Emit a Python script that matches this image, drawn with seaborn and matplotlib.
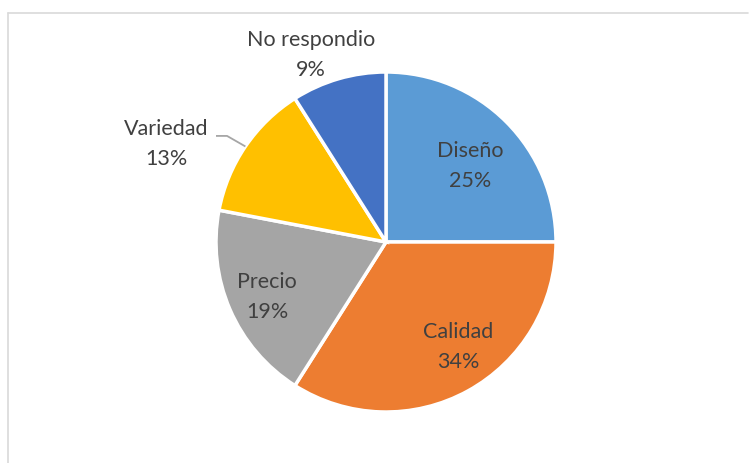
import matplotlib
matplotlib.use("Agg")
import matplotlib.pyplot as plt
from matplotlib.lines import Line2D
import seaborn as sns
import numpy as np

categories = ["Diseño", "Calidad", "Precio", "Variedad", "No respondio"]
percent = [25, 34, 19, 13, 9]
colors = ["#5B9BD5", "#ED7D31", "#A5A5A5", "#FFC000", "#4472C4"]

# label centre positions (data units, pie radius = 1)
label_pos = [(0.494, 0.447), (0.424, -0.618), (-0.70, -0.324), (-1.294, 0.578), (-0.441, 1.10)]

sns.set_theme(style="white")
plt.rcParams["font.family"] = ["Lato", "DejaVu Sans"]

W, H, DPI = 749, 463, 100
fig = plt.figure(figsize=(W / DPI, H / DPI), dpi=DPI)
ax = fig.add_axes([0, 0, 1, 1])

cx, cy, R = 386, 242, 170

wedges, _ = ax.pie(percent, colors=colors, startangle=90, counterclock=False,
                   radius=1.0, center=(0, 0), frame=True,
                   wedgeprops=dict(edgecolor="white", linewidth=2.5))
ax.set_xlim((0 - cx) / R, (W - cx) / R)
ax.set_ylim((cy - H) / R, (cy - 0) / R)
ax.set_aspect("equal")
ax.axis("off")

for name, p, (x, y) in zip(categories, percent, label_pos):
    ax.text(x, y, f"{name}\n{p}%", ha="center", va="center", fontsize=15.5,
            color="#404040", linespacing=1.6)

# leader line for the outside label
w = wedges[3]
mid = np.deg2rad((w.theta1 + w.theta2) / 2)
ex, ey = np.cos(mid), np.sin(mid)
ax.plot([-1.00, -0.935, ex], [0.624, 0.624, ey], color="#A6A6A6", lw=1.3,
        solid_capstyle="butt")

# chart area border
fig.add_artist(Line2D([8 / W, 748 / W], [1 - 13 / H, 1 - 13 / H],
                      color="#D9D9D9", lw=1.2, transform=fig.transFigure))
fig.add_artist(Line2D([8 / W, 8 / W], [0, 1 - 13 / H],
                      color="#D9D9D9", lw=1.2, transform=fig.transFigure))

fig.savefig("out.png", dpi=DPI, facecolor="white")
